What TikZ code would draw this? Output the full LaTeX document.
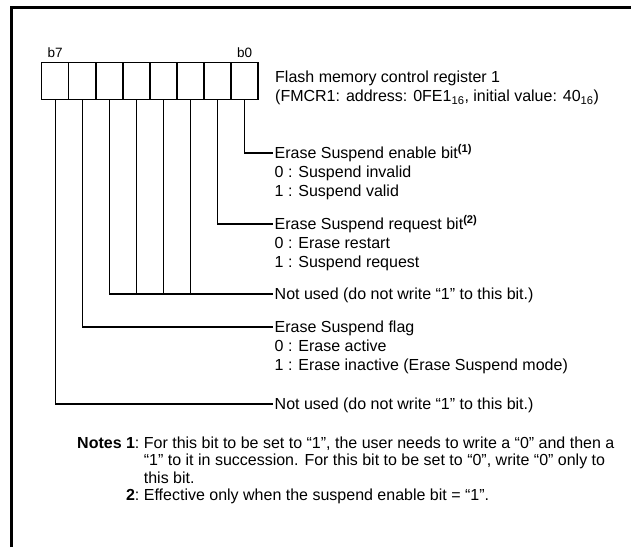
\documentclass[tikz,border=0pt]{standalone}
\usepackage{fontspec}
\setmainfont{Liberation Sans}
\usetikzlibrary{positioning}
\tikzstyle{bit} = [draw, line width=1.5pt, minimum width=27.07pt, minimum height=36.8pt, inner sep=0pt]
\tikzstyle{bitlabel} = [anchor=base, inner sep=0pt, font=\fontsize{13.5}{16}\selectfont]
\tikzstyle{desc} = [anchor=west, inner xsep=1.5pt, inner ysep=0pt, text height=11.5pt, text depth=0pt]
\tikzstyle{opts} = [align=left, inner sep=0pt]
\tikzstyle{wire} = [line width=1.1pt]

\begin{document}
\begin{tikzpicture}[x=1pt, y=-1pt, font=\fontsize{16}{18.7}\selectfont]
        \useasboundingbox (0,0) rectangle (631,547);
        \draw[line width=3pt] (11.7,547) -- (11.7,7.5) -- (631,7.5);
        % register bits, b7 on the left
        \foreach \i in {0,...,7} {
            \node[bit] (bit\i) at ({55.2+(7-\i)*27.07}, 81.1) {};
        }
        \node[bitlabel] (lb7) at ([yshift=4.7pt]bit7.north) {b7};
        \node[bitlabel] (lb0) at ([yshift=4.7pt]bit0.north) {b0};
        \node[anchor=north west, align=left, inner sep=0pt, font=\fontsize{16}{19.5}\selectfont] (title) at (275,70.5) {Flash memory control register 1\\(FMCR1: address: 0FE1\textsubscript{16}, initial value: 40\textsubscript{16})};

        % bit descriptions
        \node[desc] (enable) at (273,153) {Erase Suspend enable bit\textsuperscript{\textbf{(1)}}};
        \node[opts, below right=7.2pt and 1.5pt of enable.south west] (enableopt) {0 : Suspend invalid\\1 : Suspend valid};
        \node[desc] (request) at (273,224) {Erase Suspend request bit\textsuperscript{\textbf{(2)}}};
        \node[opts, below right=7.2pt and 1.5pt of request.south west] (requestopt) {0 : Erase restart\\1 : Suspend request};
        \node[desc] (unused) at (273,294) {Not used (do not write “1” to this bit.)};
        \node[desc] (flag) at (273,327) {Erase Suspend flag};
        \node[opts, below right=7.2pt and 1.5pt of flag.south west] (flagopt) {0 : Erase active\\1 : Erase inactive (Erase Suspend mode)};
        \node[desc] (unusedtop) at (273,404) {Not used (do not write “1” to this bit.)};

        \draw[wire] (bit0.south) |- (enable.west);
        \draw[wire] (bit1.south) |- (request.west);
        \draw[wire] (bit5.south) |- (unused.west);
        \foreach \i in {2,3,4} {
            \draw[wire] (bit\i.south) -- (bit\i.south |- unused.west);
        }
        \draw[wire] (bit6.south) |- (flag.west);
        \draw[wire] (bit7.south) |- (unusedtop.west);

        % notes
        \node[anchor=north west, inner sep=0pt, font=\fontsize{16}{17.5}\selectfont] (notes) at (77,436) {%
            \begin{tabular}{@{}r@{\ }l@{}}
            \textbf{Notes 1}: & For this bit to be set to “1”, the user needs to write a “0” and then a\\
             & “1” to it in succession. For this bit to be set to “0”, write “0” only to\\
             & this bit.\\
            \textbf{2}: & Effective only when the suspend enable bit = “1”.
            \end{tabular}};
    \end{tikzpicture}
\end{document}
